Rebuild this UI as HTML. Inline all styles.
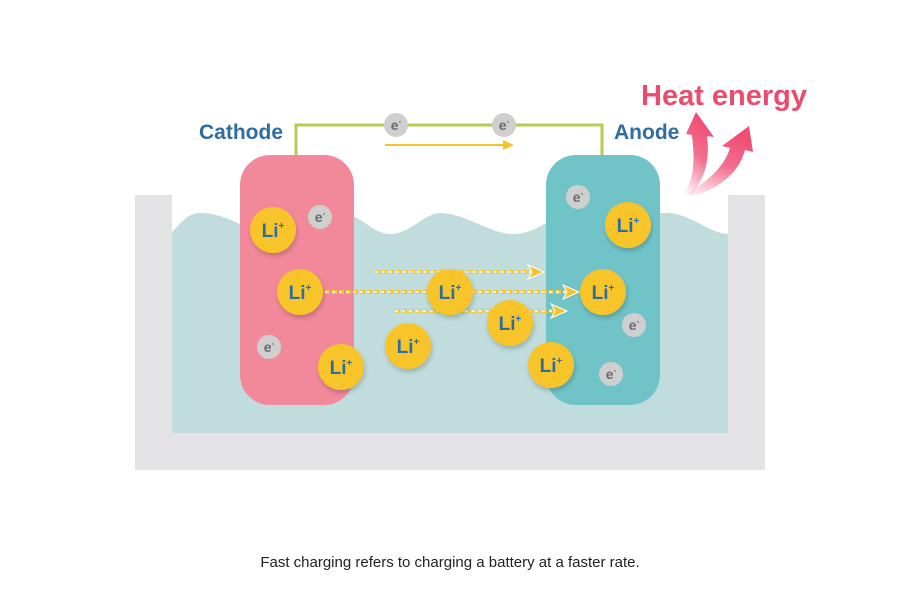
<!DOCTYPE html>
<html><head><meta charset="utf-8"><style>
html,body{margin:0;padding:0;background:#fff;width:900px;height:600px;overflow:hidden}
</style></head><body>
<svg width="900" height="600" viewBox="0 0 900 600" xmlns="http://www.w3.org/2000/svg" font-family="Liberation Sans, sans-serif">
<defs>
<linearGradient id="hg" x1="0" y1="1" x2="0.3" y2="0">
<stop offset="0" stop-color="#f04d74" stop-opacity="0"/>
<stop offset="0.55" stop-color="#f04d74" stop-opacity="0.8"/>
<stop offset="1" stop-color="#f04d74"/>
</linearGradient>
<filter id="sh" x="-30%" y="-30%" width="160%" height="160%"><feDropShadow dx="1" dy="3" stdDeviation="2.5" flood-color="#000" flood-opacity="0.2"/></filter>
</defs>
<rect x="135" y="195" width="630" height="275" fill="#e3e3e5"/>
<rect x="172" y="195" width="556" height="238" fill="#fff"/>
<path d="M172,232 C182,222 188,213 200,213 C230,213 250,234 270,234 C300,234 320,213 340,213 C360,213 372,234 390,234 C410,234 425,213 440,213 C465,213 490,234 513,234 C540,234 550,213 580,213 C610,213 640,213 667,213 C690,213 710,234 728,234 L728,433 L172,433 Z" fill="#c0dcdc"/>
<polyline points="296,155 296,125 602,125 602,155" fill="none" stroke="#b6cc52" stroke-width="3"/>
<circle cx="396" cy="125" r="12" fill="#cfcfcf"/><text x="396" y="130" font-size="14" font-weight="bold" fill="#6a6a6a" text-anchor="middle">e<tspan font-size="8" dy="-6">-</tspan></text>
<circle cx="504" cy="125" r="12" fill="#cfcfcf"/><text x="504" y="130" font-size="14" font-weight="bold" fill="#6a6a6a" text-anchor="middle">e<tspan font-size="8" dy="-6">-</tspan></text>
<line x1="385" y1="145" x2="508" y2="145" stroke="#f6c42a" stroke-width="2"/>
<path d="M503,140 L514,145 L503,150 Z" fill="#f6c42a"/>
<rect x="240" y="155" width="114" height="250" rx="30" fill="#f2899b"/>
<rect x="546" y="155" width="114" height="250" rx="30" fill="#70c4c7"/>
<g fill="none">
<line x1="375" y1="272" x2="533" y2="272" stroke="#f6c42a" stroke-width="4" stroke-dasharray="5,2" opacity="0.9"/>
<line x1="375" y1="272" x2="533" y2="272" stroke="#fff" stroke-width="1.5" stroke-dasharray="3,4"/>
<line x1="325" y1="292" x2="568" y2="292" stroke="#f6c42a" stroke-width="4" stroke-dasharray="5,2"/>
<line x1="325" y1="292" x2="568" y2="292" stroke="#fff" stroke-width="1.5" stroke-dasharray="3,4"/>
<line x1="395" y1="311" x2="556" y2="311" stroke="#f6c42a" stroke-width="4" stroke-dasharray="5,2" opacity="0.9"/>
<line x1="395" y1="311" x2="556" y2="311" stroke="#fff" stroke-width="1.5" stroke-dasharray="3,4"/>
</g>
<g fill="#f6c42a" stroke="#fff" stroke-width="1">
<path d="M528,265 L544,272 L528,279 L532,272 Z"/>
<path d="M563,285 L579,292 L563,299 L567,292 Z"/>
<path d="M551,304 L567,311 L551,318 L555,311 Z"/>
</g>
<g font-size="14" font-weight="bold" fill="#6a6a6a" text-anchor="middle">
<circle cx="320" cy="217" r="12" fill="#cfcfcf"/><text x="320" y="222">e<tspan font-size="8" dy="-6">-</tspan></text>
<circle cx="269" cy="347" r="12" fill="#cfcfcf"/><text x="269" y="352">e<tspan font-size="8" dy="-6">-</tspan></text>
<circle cx="578" cy="197" r="12" fill="#cfcfcf"/><text x="578" y="202">e<tspan font-size="8" dy="-6">-</tspan></text>
<circle cx="634" cy="325" r="12" fill="#cfcfcf"/><text x="634" y="330">e<tspan font-size="8" dy="-6">-</tspan></text>
<circle cx="611" cy="374" r="12" fill="#cfcfcf"/><text x="611" y="379">e<tspan font-size="8" dy="-6">-</tspan></text>
</g>
<g font-size="19" font-weight="bold" fill="#2e6da4" text-anchor="middle">
<g filter="url(#sh)" fill="#f7c42c">
<circle cx="273" cy="230" r="23"/><circle cx="300" cy="292" r="23"/><circle cx="341" cy="367" r="23"/>
<circle cx="408" cy="346" r="23"/><circle cx="450" cy="292" r="23"/><circle cx="510" cy="323" r="23"/>
<circle cx="551" cy="365" r="23"/><circle cx="628" cy="225" r="23"/><circle cx="603" cy="292" r="23"/>
</g>
<text x="273" y="237">Li<tspan font-size="10" dy="-8">+</tspan></text>
<text x="300" y="299">Li<tspan font-size="10" dy="-8">+</tspan></text>
<text x="341" y="374">Li<tspan font-size="10" dy="-8">+</tspan></text>
<text x="408" y="353">Li<tspan font-size="10" dy="-8">+</tspan></text>
<text x="450" y="299">Li<tspan font-size="10" dy="-8">+</tspan></text>
<text x="510" y="330">Li<tspan font-size="10" dy="-8">+</tspan></text>
<text x="551" y="372">Li<tspan font-size="10" dy="-8">+</tspan></text>
<text x="628" y="232">Li<tspan font-size="10" dy="-8">+</tspan></text>
<text x="603" y="299">Li<tspan font-size="10" dy="-8">+</tspan></text>
</g>
<!-- heat arrows -->
<path d="M684,194 C696,175 694,155 692,135 L686,134 L696,112 L714,137 L707,136 C710,160 705,178 692,194 Z" fill="url(#hg)"/>
<path d="M686,195 C706,182 724,168 730,148 L722,146 L749,126 L753,152 L745,150 C738,176 715,190 690,197 Z" fill="url(#hg)"/>
<text x="641" y="105" font-size="29" font-weight="bold" fill="#ea4c6e">Heat energy</text>
<text x="199" y="139" font-size="21" font-weight="bold" fill="#2e6da4">Cathode</text>
<text x="614" y="139" font-size="21" font-weight="bold" fill="#2e6da4">Anode</text>
<text x="450" y="567" font-size="15" fill="#222" text-anchor="middle">Fast charging refers to charging a battery at a faster rate.</text>
</svg>
</body></html>
